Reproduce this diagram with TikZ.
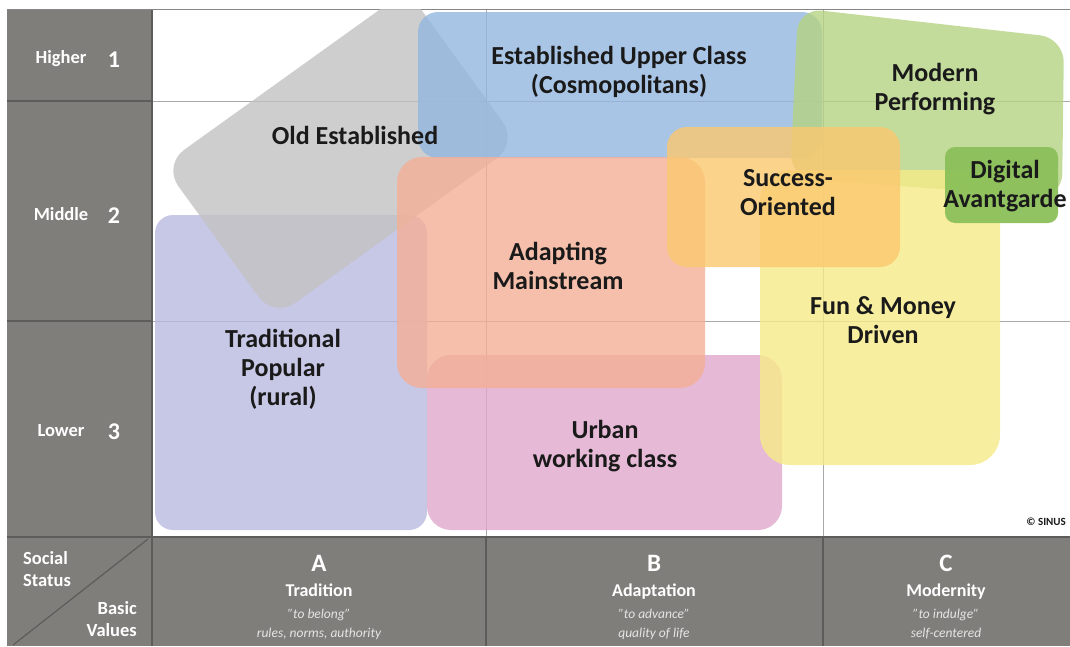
\documentclass[tikz,border=0pt]{standalone}
\usepackage{fontspec}
\setmainfont{Carlito}
\definecolor{band}{HTML}{7F7E7A}
\definecolor{bandline}{HTML}{5C5C5A}
\definecolor{gridc}{HTML}{A8A8A8}
\definecolor{txt}{HTML}{1A1A1A}
\definecolor{cLav}{HTML}{BABAE0}
\definecolor{cGray}{HTML}{C2C2C2}
\definecolor{cBlue}{HTML}{94B7E0}
\definecolor{cGreen}{HTML}{B5D383}
\definecolor{cDA}{HTML}{8CC05A}
\definecolor{cSalmon}{HTML}{F4AF96}
\definecolor{cOrange}{HTML}{FBC86F}
\definecolor{cYellow}{HTML}{F6EC88}
\definecolor{cPink}{HTML}{E0A8CC}
\begin{document}
\begin{tikzpicture}[x=1pt,y=-1pt,
  lab/.style={font=\fontsize{26}{29}\selectfont\bfseries, text=txt, align=center, inner sep=0pt, anchor=base},
  axisword/.style={font=\fontsize{18.5}{22}\selectfont\bfseries, text=white, inner sep=0pt, anchor=base},
  axisnum/.style={font=\fontsize{24}{28}\selectfont\bfseries, text=white, inner sep=0pt, anchor=base},
  colletter/.style={font=\fontsize{25}{28}\selectfont\bfseries, text=white, inner sep=0pt, anchor=base},
  coltitle/.style={font=\fontsize{18}{22}\selectfont\bfseries, text=white, inner sep=0pt, anchor=base},
  colnote/.style={font=\fontsize{13.5}{19}\selectfont\itshape, text=white!90!black, inner sep=0pt, anchor=base, align=center},
  blob/.style={fill=#1, fill opacity=0.8},
  gridline/.style={draw=gridc, line width=1pt},
  darkline/.style={draw=bandline, line width=1.2pt}
]
\useasboundingbox (0,0) rectangle (1070,646);
\fill[white] (0,0) rectangle (1070,646);

% grid in plot area
\draw[gridline] (152,101) -- (1070,101);
\draw[gridline] (152,321) -- (1070,321);
\draw[gridline] (486,9) -- (486,537);
\draw[gridline] (823,9) -- (823,537);
\draw[draw=gridc!80!black, line width=1pt] (7,9) -- (1070,9);

% segments
\begin{scope}
\clip (152,9.5) rectangle (1070,537);
\fill[blob=cLav, rounded corners=18pt] (155,215) rectangle (427,530);
\fill[blob=cGray, rounded corners=26pt] (163,165) -- (274,318) -- (518,143) -- (407,-10) -- cycle;
\fill[blob=cBlue, rounded corners=20pt] (418,12) rectangle (822,158);
\fill[blob=cGreen, rounded corners=24pt] (798,8) -- (1064,38) -- (1062,198) -- (790,178) -- cycle;
\fill[blob=cPink, rounded corners=24pt] (427,355) rectangle (782,530);
\fill[blob=cSalmon, rounded corners=25pt] (397,157) rectangle (705,388);
\fill[blob=cYellow, rounded corners=30pt] (760,170) rectangle (1000,465);
\fill[blob=cOrange, rounded corners=20pt] (667,127) rectangle (900,267);
\fill[fill=cDA, fill opacity=0.95, rounded corners=10pt] (945,147) rectangle (1058,223);
\end{scope}

% segment labels (anchor = baseline of the last line)
\node[lab] (oldest) at (355,144) {Old Established};
\node[lab] (upper) at (619,93) {Established Upper Class\\(Cosmopolitans)};
\node[lab] (modern) at (935,110) {Modern\\Performing};
\node[lab] (success) at (788,215) {Success-\\Oriented};
\node[lab] (digital) at (1005,207) {Digital\\Avantgarde};
\node[lab] (adapting) at (558,289) {Adapting\\Mainstream};
\node[lab] (tradpop) at (283,405) {Traditional\\Popular\\(rural)};
\node[lab] (funmoney) at (883,343) {Fun \& Money\\Driven};
\node[lab] (urban) at (605,467) {Urban\\working class};
\node[font=\fontsize{11}{13}\selectfont\bfseries, text=txt, inner sep=0pt, anchor=base east] (sinus) at (1066,525) {\textcopyright\ SINUS};

% left column and bottom band
\fill[band] (7,9.5) rectangle (152,537);
\fill[band] (7,537) rectangle (1070,646);
\draw[darkline] (7,101) -- (152,101);
\draw[darkline] (7,321) -- (152,321);
\draw[darkline] (7,537) -- (1070,537);
\draw[darkline] (152,9.5) -- (152,646);
\draw[darkline] (486,537) -- (486,646);
\draw[darkline] (823,537) -- (823,646);
\draw[darkline] (13,645) -- (148,539);

% row labels
\node[axisword] (higher) at (61,63) {Higher};
\node[axisnum] (n1) at (114,67) {1};
\node[axisword] (middle) at (61,220) {Middle};
\node[axisnum] (n2) at (114,223) {2};
\node[axisword] (lower) at (61,436) {Lower};
\node[axisnum] (n3) at (114,439) {3};

% corner labels
\node[axisword, anchor=base west, align=left] (social) at (23,586) {Social\\Status};
\node[axisword, anchor=base east, align=right] (basic) at (137,636) {Basic\\Values};

% column labels
\node[colletter] (colA) at (319,571) {A};
\node[coltitle] (titA) at (319,596) {Tradition};
\node[colnote] (noteA) at (319,637) {"to belong"\\rules, norms, authority};
\node[colletter] (colB) at (654,571) {B};
\node[coltitle] (titB) at (654,596) {Adaptation};
\node[colnote] (noteB) at (654,637) {"to advance"\\quality of life};
\node[colletter] (colC) at (946,571) {C};
\node[coltitle] (titC) at (946,596) {Modernity};
\node[colnote] (noteC) at (946,637) {"to indulge"\\self-centered};
\end{tikzpicture}
\end{document}
